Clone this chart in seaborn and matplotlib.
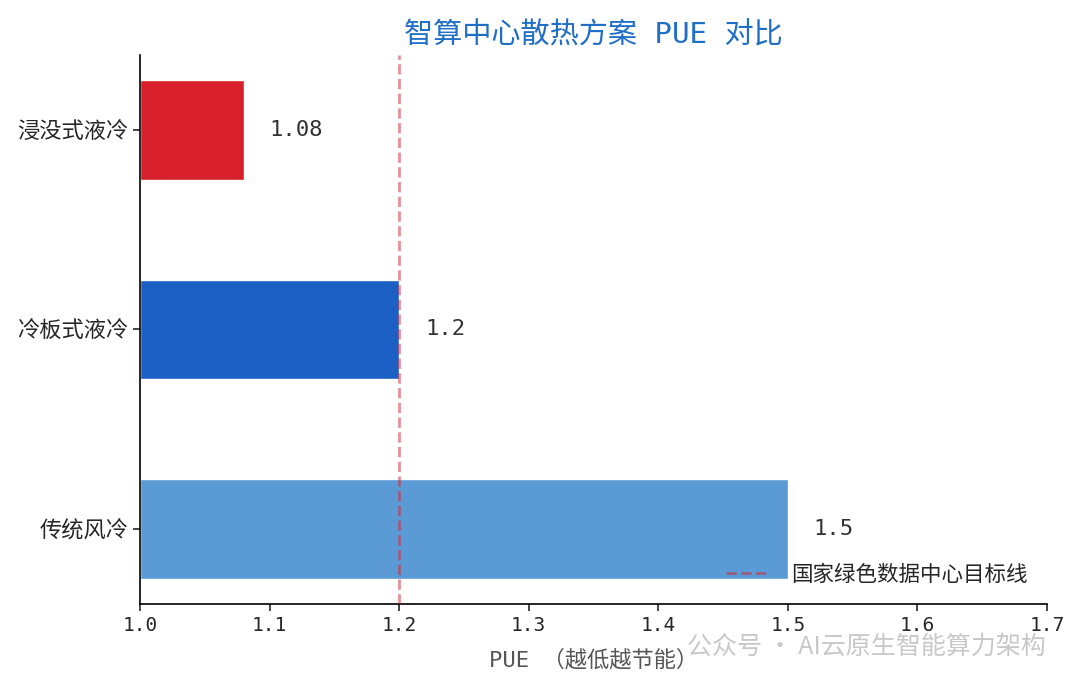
import matplotlib
matplotlib.use("Agg")
import matplotlib.pyplot as plt
import seaborn as sns
import pandas as pd

categories = ["浸没式液冷", "冷板式液冷", "传统风冷"]
pue_values = [1.08, 1.2, 1.5]
bar_colors = ["#d7202b", "#1c60c6", "#5b9bd5"]
target_pue = 1.2
x_ticks = [1.0, 1.1, 1.2, 1.3, 1.4, 1.5, 1.6, 1.7]
title = "智算中心散热方案 PUE 对比"
xlabel = "PUE （越低越节能）"
legend_label = "国家绿色数据中心目标线"
watermark = "公众号 · AI云原生智能算力架构"

sns.set_style("white")
FAM = ["DejaVu Sans Mono", "Noto Sans CJK SC"]
plt.rcParams["font.family"] = FAM
plt.rcParams["axes.unicode_minus"] = False

df = pd.DataFrame({"方案": categories, "PUE": pue_values})

fig = plt.figure(figsize=(10.8, 6.89), dpi=100)
ax = fig.add_axes([0.1296, 0.1234, 0.9694 - 0.1296, 0.9202 - 0.1234])

sns.barplot(data=df, y="方案", x="PUE", hue="方案", palette=bar_colors,
            order=categories, hue_order=categories, orient="h",
            width=0.5, legend=False, ax=ax, saturation=1)
for p in ax.patches:
    # bars start at 1.0 (axis origin)
    p.set_x(1.0)
    p.set_width(p.get_width() - 1.0)

ax.axvline(target_pue, color="#d7202b", alpha=0.5, linestyle="--", linewidth=2,
           label=legend_label, zorder=3)

for i, v in enumerate(pue_values):
    ax.text(v + 0.02, i, f"{v:g}", ha="left", va="center", fontsize=16,
            color="#333333", family=FAM)

ax.set_xlim(1.0, 1.7)
ax.set_ylim(2.375, -0.375)
ax.set_xticks(x_ticks)
ax.set_xticklabels([f"{t:.1f}" for t in x_ticks], fontsize=14)
ax.tick_params(axis="y", labelsize=16, length=5, width=1.2, left=True)
ax.tick_params(axis="x", length=5, width=1.2, bottom=True)
ax.set_ylabel("")
ax.set_xlabel(xlabel, fontsize=16, color="#555555", labelpad=10)
ax.set_title(title, fontsize=21, color="#1f6fc6", pad=8)

for s in ["top", "right"]:
    ax.spines[s].set_visible(False)
for s in ["left", "bottom"]:
    ax.spines[s].set_color("black")
    ax.spines[s].set_linewidth(1.2)

ax.legend(loc="lower right", frameon=False, fontsize=15.5,
          handlelength=2.0, handletextpad=1.0, borderaxespad=0.5)

fig.text(0.968, 0.062, watermark, fontsize=18, color="#bbbbbb", alpha=0.8,
         ha="right", va="center", family=["Noto Sans CJK SC", "DejaVu Sans"])

fig.savefig("out.png", dpi=100)
